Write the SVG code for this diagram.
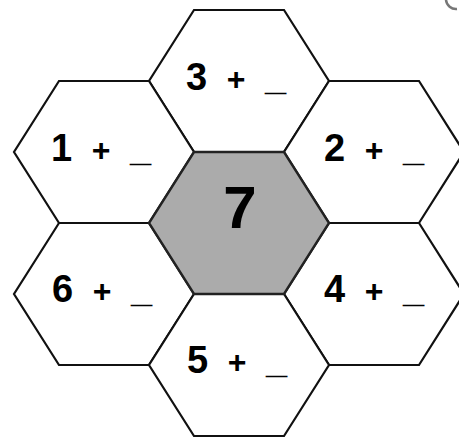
<svg xmlns="http://www.w3.org/2000/svg" xmlns:xlink="http://www.w3.org/1999/xlink" width="459" height="439" viewBox="0 0 459 439">
<style>
.hex{fill:#ffffff;stroke:#111111;stroke-width:2.2;stroke-linejoin:miter}
.mid{fill:#ababab;stroke:#222222;stroke-width:2.4}
.lbl{font-family:"Liberation Sans",Arial,sans-serif;font-weight:bold;font-size:38px;fill:#000000;word-spacing:9px}
.pl{font-size:32px}
.big{font-family:"Liberation Sans",Arial,sans-serif;font-weight:bold;font-size:60px;fill:#000000;text-anchor:middle}
</style>
<defs>
<polygon id="hexshape" points="-45,-71 45,-71 90,0 45,71 -45,71 -90,0"/>
</defs>
<rect width="459" height="439" fill="#ffffff"/>
<g id="connectors"></g>
<g id="hex3" transform="translate(239,81)">
<use xlink:href="#hexshape" class="hex"/>
<text class="lbl" x="-53" y="9">3 <tspan class="pl">+</tspan> _</text>
</g>
<g id="hex1" transform="translate(104,152)">
<use xlink:href="#hexshape" class="hex"/>
<text class="lbl" x="-53" y="9">1 <tspan class="pl">+</tspan> _</text>
</g>
<g id="hex2" transform="translate(374,152)">
<use xlink:href="#hexshape" class="hex"/>
<text class="lbl" x="-50" y="9">2 <tspan class="pl">+</tspan> _</text>
</g>
<g id="hex6" transform="translate(104,294)">
<use xlink:href="#hexshape" class="hex"/>
<text class="lbl" x="-52" y="8">6 <tspan class="pl">+</tspan> _</text>
</g>
<g id="hex4" transform="translate(374,294)">
<use xlink:href="#hexshape" class="hex"/>
<text class="lbl" x="-50" y="8">4 <tspan class="pl">+</tspan> _</text>
</g>
<g id="hex5" transform="translate(239,365)">
<use xlink:href="#hexshape" class="hex"/>
<text class="lbl" x="-52" y="8">5 <tspan class="pl">+</tspan> _</text>
</g>
<g id="hex7" transform="translate(239,223)">
<use xlink:href="#hexshape" class="mid"/>
<text class="big" x="1" y="5">7</text>
</g>
<path d="M446,0 A10,10 0 0 0 457,9" fill="none" stroke="#777777" stroke-width="2.5"/>
</svg>
